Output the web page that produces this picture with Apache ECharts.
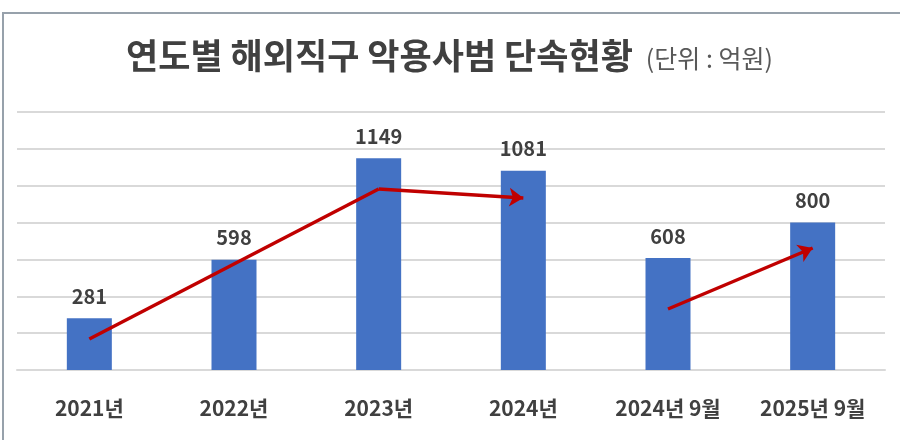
<!DOCTYPE html>
<html>
<head>
<meta charset="utf-8">
<script src="https://cdn.jsdelivr.net/npm/echarts@6/dist/echarts.min.js"></script>
<style>html,body{margin:0;padding:0;background:#fff}#c{width:900px;height:440px}</style>
</head>
<body>
<div id="c"></div>
<script>
var categories = ['2021년', '2022년', '2023년', '2024년', '2024년 9월', '2025년 9월'];
var values = [281, 598, 1149, 1081, 608, 800];
var yTicks = { min: 0, max: 1400, interval: 200 };
// red trend arrows drawn in data space: [category index, value]
var arrow1 = [[0, 168], [2, 982], [3, 933]];
var arrow2 = [[4, 331], [5, 662]];

var FONT = '"Noto Sans CJK KR", "Noto Sans", sans-serif';
var redLine = { color: '#c00000', width: 3.5, type: 'solid' };

function seg(a, b, arrowEnd) {
  return [
    { coord: a, symbol: 'none' },
    { coord: b, symbol: arrowEnd ? 'arrow' : 'none', symbolSize: 14 }
  ];
}

var markData = [
  seg(arrow1[0], arrow1[1], false),
  seg(arrow1[1], arrow1[2], true),
  seg(arrow2[0], arrow2[1], true)
];

var chart = echarts.init(document.getElementById('c'));
chart.setOption({
  animation: false,
  backgroundColor: '#ffffff',
  graphic: [{
    type: 'polyline',
    shape: { points: [[3, 440], [3, 13], [900, 13]] },
    style: { stroke: '#97a1ab', lineWidth: 2, fill: null },
    silent: true
  }],
  title: {
    left: 121,
    top: 28,
    text: '{a|연도별 해외직구 악용사범 단속현황} {b|(단위 : 억원)}',
    textStyle: {
      rich: {
        a: { fontFamily: FONT, fontSize: 35, fontWeight: 'bold', color: '#404040', lineHeight: 46, verticalAlign: 'middle' },
        b: { fontFamily: FONT, fontSize: 25, fontWeight: 'normal', color: '#595959', lineHeight: 46, verticalAlign: 'middle', padding: [4, 0, 0, 8] }
      }
    }
  },
  grid: { left: 17, right: 15, top: 112, bottom: 70, containLabel: false },
  xAxis: {
    type: 'category',
    data: categories,
    axisTick: { show: false },
    axisLine: { show: true, lineStyle: { color: '#d9d9d9', width: 2 } },
    axisLabel: { margin: 28, fontFamily: FONT, fontSize: 21, fontWeight: 'bold', color: '#404040' }
  },
  yAxis: {
    type: 'value',
    min: yTicks.min,
    max: yTicks.max,
    interval: yTicks.interval,
    axisLabel: { show: false },
    axisLine: { show: false },
    axisTick: { show: false },
    splitLine: { show: true, lineStyle: { color: '#d9d9d9', width: 2 } }
  },
  series: [{
    type: 'bar',
    data: values,
    barWidth: 45,
    itemStyle: { color: '#4472c4' },
    label: {
      show: true,
      position: 'top',
      distance: 12,
      fontFamily: FONT,
      fontSize: 20,
      fontWeight: 'bold',
      color: '#404040'
    },
    markLine: {
      silent: true,
      animation: false,
      label: { show: false },
      lineStyle: redLine,
      emphasis: { disabled: true },
      data: markData
    }
  }]
});
</script>
</body>
</html>
